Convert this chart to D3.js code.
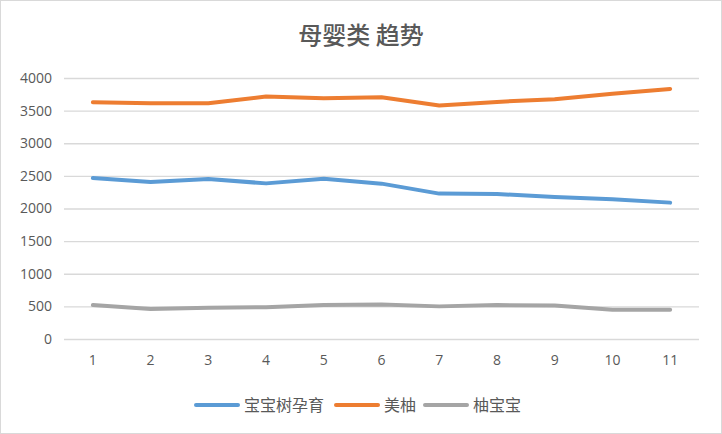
<!DOCTYPE html>
<html>
<head>
<meta charset="utf-8">
<script src="https://cdn.jsdelivr.net/npm/d3@7"></script>
<style>
  html, body { margin: 0; padding: 0; background: #fff; }
  #chart { width: 722px; height: 434px; }
  text { font-family: "Noto Sans CJK SC", "Microsoft YaHei", sans-serif; }
</style>
</head>
<body>
<div id="chart"></div>
<script>
const categories = ['1', '2', '3', '4', '5', '6', '7', '8', '9', '10', '11'];
const seriesNames = ['宝宝树孕育', '美柚', '柚宝宝'];
const babytree = [2466, 2405, 2451, 2385, 2457, 2381, 2228, 2222, 2176, 2141, 2090];
const meiyou = [3628, 3613, 3613, 3716, 3690, 3705, 3578, 3634, 3675, 3757, 3833];
const youbaobao = [520, 459, 480, 486, 520, 530, 500, 520, 515, 450, 450];
const yTicks = [0, 500, 1000, 1500, 2000, 2500, 3000, 3500, 4000];
const colors = ['#5b9bd5', '#ed7d31', '#a5a5a5'];

const W = 722, H = 434;
const margin = { top: 78, right: 23, bottom: 95, left: 64 };
const width = W - margin.left - margin.right,
      height = H - margin.top - margin.bottom;

const root = d3.select('#chart').append('svg')
    .attr('width', W)
    .attr('height', H);

// outer border
root.append('rect')
    .attr('x', 0.5).attr('y', 0.5)
    .attr('width', W - 1).attr('height', H - 1)
    .attr('fill', '#fff')
    .attr('stroke', '#d9d9d9');

root.append('text')
    .attr('x', W / 2)
    .attr('y', 44)
    .attr('text-anchor', 'middle')
    .attr('fill', '#595959')
    .attr('font-weight', 500)
    .style('font-size', '24px')
    .text('母婴类 趋势');

const svg = root.append('g')
    .attr('transform', `translate(${margin.left},${margin.top})`);

const x = d3.scaleBand()
    .domain(categories)
    .range([0, width]);

const y = d3.scaleLinear()
    .domain([0, 4000])
    .range([height, 0]);

// gridlines + y labels
const yAxis = svg.append('g')
    .call(d3.axisLeft(y).tickValues(yTicks).tickFormat(d3.format('d')).tickSize(-width).tickPadding(12));
yAxis.select('.domain').remove();
yAxis.selectAll('line').attr('stroke', '#d9d9d9').attr('stroke-width', 1.3);
yAxis.selectAll('text').attr('fill', '#595959').style('font-size', '14px')
    .style('font-family', '"Open Sans", "Noto Sans", sans-serif');

// x labels
const xAxis = svg.append('g')
    .attr('transform', `translate(0,${height})`)
    .call(d3.axisBottom(x).tickSize(0).tickPadding(16));
xAxis.select('.domain').remove();
xAxis.selectAll('text').attr('fill', '#595959').style('font-size', '14px')
    .style('font-family', '"Open Sans", "Noto Sans", sans-serif');

const line = d3.line()
    .x((d, i) => x(categories[i]) + x.bandwidth() / 2)
    .y(d => y(d));

[babytree, meiyou, youbaobao].forEach((vals, k) => {
  svg.append('path')
      .datum(vals)
      .attr('fill', 'none')
      .attr('stroke', colors[k])
      .attr('stroke-width', 4)
      .attr('stroke-linecap', 'round')
      .attr('stroke-linejoin', 'round')
      .attr('d', line);
});

// legend
const legendItems = [
  { name: seriesNames[0], x: 196 },
  { name: seriesNames[1], x: 336 },
  { name: seriesNames[2], x: 425 }
];
const legend = root.append('g').attr('transform', 'translate(0,405)');
legendItems.forEach((d, k) => {
  legend.append('line')
      .attr('x1', d.x).attr('x2', d.x + 42)
      .attr('y1', 0).attr('y2', 0)
      .attr('stroke', colors[k])
      .attr('stroke-width', 4)
      .attr('stroke-linecap', 'round');
  legend.append('text')
      .attr('x', d.x + 48)
      .attr('y', 6)
      .attr('fill', '#595959')
      .style('font-size', '16px')
      .text(d.name);
});
</script>
</body>
</html>
